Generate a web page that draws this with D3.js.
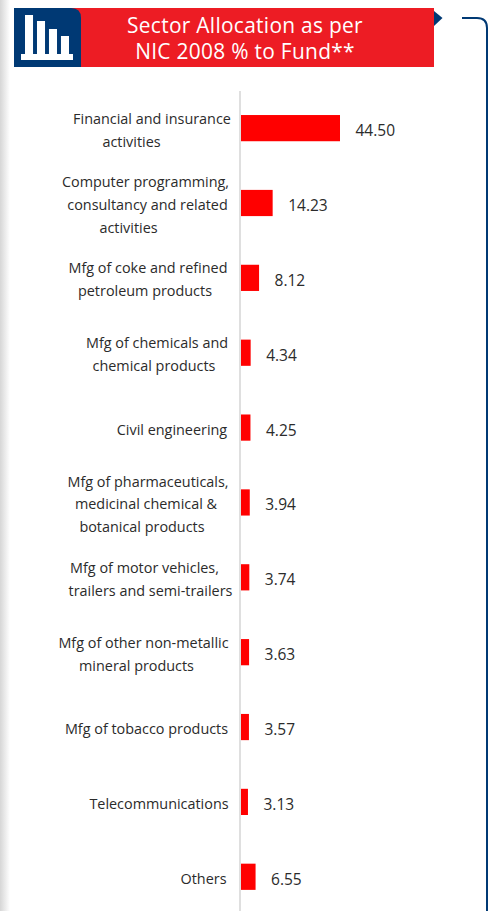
<!DOCTYPE html>
<html><head><meta charset="utf-8">
<script src="https://cdn.jsdelivr.net/npm/d3@7/dist/d3.min.js"></script>
<style>html,body{margin:0;padding:0;background:#fff}svg{display:block}</style>
</head><body><svg id="c" width="489" height="911"></svg>
<script>
const categories = ["Financial and insurance activities","Computer programming, consultancy and related activities","Mfg of coke and refined petroleum products","Mfg of chemicals and chemical products","Civil engineering","Mfg of pharmaceuticals, medicinal chemical & botanical products","Mfg of motor vehicles, trailers and semi-trailers","Mfg of other non-metallic mineral products","Mfg of tobacco products","Telecommunications","Others"];
const values = [44.50,14.23,8.12,4.34,4.25,3.94,3.74,3.63,3.57,3.13,6.55];
const labelLines = [["Financial and insurance","activities"],["Computer programming,","consultancy and related","activities"],["Mfg of coke and refined","petroleum products"],["Mfg of chemicals and","chemical products"],["Civil engineering"],["Mfg of pharmaceuticals,","medicinal chemical &","botanical products"],["Mfg of motor vehicles,","trailers and semi-trailers"],["Mfg of other non-metallic","mineral products"],["Mfg of tobacco products"],["Telecommunications"],["Others"]];
const labelCentres = [[152,131.5],[145.5,147.5,128.5],[148,145],[157,154],[172],[148,146,142],[144.5,150.5],[143.5,136.5],[146.5],[159],[203.5]];
const titleLines = ["Sector Allocation as per","NIC 2008 % to Fund**"];
const iconBars = [39,33,25,18];

const svg = d3.select("#c");
const defs = svg.append("defs");
const g = defs.append("linearGradient").attr("id","edge");
g.append("stop").attr("offset",0).attr("stop-color","#d6d6d6");
g.append("stop").attr("offset",1).attr("stop-color","#ffffff");
svg.append("rect").attr("width",10).attr("height",911).attr("fill","url(#edge)");

const font = "'Open Sans', sans-serif";
const x = d3.scaleLinear().domain([0,44.5]).range([241,340]);
const y = d3.scaleBand().domain(categories).range([90.7,914.2]).paddingInner(0.65).paddingOuter(0.325);

svg.append("line").attr("x1",240).attr("x2",240).attr("y1",91).attr("y2",911).attr("stroke","#d4d4d4").attr("stroke-width",1.5);

svg.selectAll("rect.bar").data(categories).join("rect").attr("class","bar")
 .attr("x",x(0)).attr("y",d=>y(d)).attr("height",y.bandwidth())
 .attr("width",(d,i)=>x(values[i])-x(0)).attr("fill","#ff0000");

svg.selectAll("text.val").data(categories).join("text").attr("class","val")
 .attr("x",(d,i)=>x(values[i])+15.5).attr("y",d=>y(d)+y.bandwidth()/2+8)
 .attr("font-family",font).attr("font-size",15.5).attr("fill","#2b2b2b")
 .text((d,i)=>values[i].toFixed(2));

categories.forEach((c,i)=>{
  const lines = labelLines[i], mid = y(c)+y.bandwidth()/2, h = 22.8;
  svg.selectAll(null).data(lines).join("text")
   .attr("x",(d,j)=>labelCentres[i][j]).attr("text-anchor","middle")
   .attr("y",(d,j)=>mid+(j-(lines.length-1)/2)*h+7)
   .attr("font-family",font).attr("font-size",14.4).attr("fill","#2b2b2b").text(d=>d);
});

// banner
svg.append("rect").attr("x",14).attr("y",8).attr("width",420).attr("height",59).attr("fill","#ed1c24");
svg.append("path").attr("d","M14 8H71Q81 8 81 18V67H14Z").attr("fill","#003974");
svg.append("path").attr("d","M434 11L442.500 18L434 26Z").attr("fill","#003974");
const ib = d3.scaleBand().domain(d3.range(iconBars.length)).range([25,69]).paddingInner(0.33);
const iy = d3.scaleLinear().domain([0,39]).range([54,15]);
svg.selectAll("rect.ic").data(iconBars).join("rect").attr("class","ic")
 .attr("x",(d,i)=>ib(i)).attr("width",ib.bandwidth()).attr("y",d=>iy(d)).attr("height",d=>iy(0)-iy(d)).attr("fill","#fff");
svg.append("rect").attr("x",21).attr("y",54).attr("width",52).attr("height",6).attr("fill","#fff");
svg.selectAll("text.t").data(titleLines).join("text").attr("class","t")
 .attr("x",245).attr("y",(d,i)=>33+i*26).attr("text-anchor","middle")
 .attr("font-family",font).attr("font-size",20.9).attr("letter-spacing",0.3).attr("fill","#fff").text(d=>d);

// bracket
svg.append("path").attr("d","M462 18H477Q487 18 487 28V911").attr("fill","none").attr("stroke","#003974").attr("stroke-width",2);
</script></body></html>
